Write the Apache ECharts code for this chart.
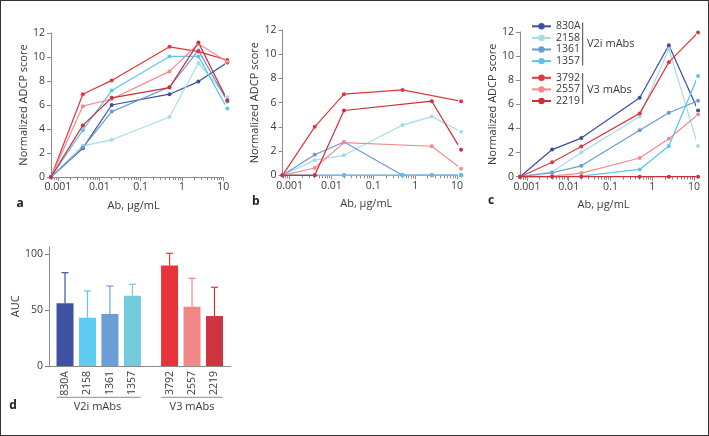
<!DOCTYPE html>
<html><head><meta charset="utf-8">
<script src="https://cdn.jsdelivr.net/npm/echarts@6/dist/echarts.min.js"></script>
<style>
html,body{margin:0;padding:0;background:#fff}
#wrap{position:relative;width:709px;height:436px}
#c{width:709px;height:436px}
#frame{position:absolute;left:0;top:0;width:709px;height:436px;box-sizing:border-box;border:1px solid #333;pointer-events:none}
</style>
</head><body><div id="wrap"><div id="c"></div><div id="frame"></div></div>
<script>
// ---------- data ----------
const antibodies = ['830A', '2158', '1361', '1357', '3792', '2557', '2219'];
const v2iNames = ['830A', '2158', '1361', '1357'];
const v3Names = ['3792', '2557', '2219'];
const groupLabels = ['V2i mAbs', 'V3 mAbs'];
const concentrations = [0.00068, 0.004, 0.02, 0.5, 2.5, 12.5]; // µg/mL
const xTickValues = [0.001, 0.01, 0.1, 1, 10];
const xTickLabels = ['0.001', '0.01', '0.1', '1', '10'];

// panel a
const a830A = [0, 2.4, 6.0, 6.9, 7.95, 9.55];
const a2158 = [0, 2.6, 3.1, 5.0, 9.5, 6.65];
const a1361 = [0, 2.45, 5.45, 7.5, 10.55, 6.3];
const a1357 = [0, 3.9, 7.2, 10.05, 10.05, 5.7];
const a3792 = [0, 6.9, 8.05, 10.85, 10.45, 9.75];
const a2557 = [0, 5.9, 6.5, 8.8, 11.1, 9.6];
const a2219 = [0, 4.3, 6.6, 7.45, 11.2, 6.4];
// panel b
const b830A = [0, 0, 0, 0, 0, 0];
const b2158 = [0, 1.25, 1.65, 4.15, 4.85, 3.6];
const b1361 = [0, 1.7, 2.75, 0, 0, 0];
const b1357 = [0, 0, 0, 0, 0, 0];
const b3792 = [0, 4.0, 6.7, 7.05, null, 6.12];
const b2557 = [0, 0.6, 2.7, null, 2.4, 0.55];
const b2219 = [0, 0, 5.35, null, 6.12, 2.1];
// panel c
const c830A = [0, 2.25, 3.2, 6.55, 10.9, 5.5];
const c2158 = [0, 0.4, 2.0, 5.0, 10.6, 2.55];
const c1361 = [0, 0.33, 0.9, 3.85, 5.3, 6.3];
const c1357 = [0, 0, 0.05, 0.6, 2.55, 8.35];
const c3792 = [0, 1.2, 2.5, 5.25, 9.5, 11.95];
const c2557 = [0, 0.05, 0.3, 1.55, 3.15, 5.15];
const c2219 = [0, 0, 0, 0, 0, 0];
// panel d
const aucMean = [56, 43.1, 46.4, 62.8, 89.8, 53, 44.6];
const aucSD = [27.3, 23.9, 25, 10.2, 10.8, 25.3, 25.7];
const aucTicks = [0, 50, 100];

// ---------- styling ----------
const lineColors = ['#3d4f9f', '#a5dbe9', '#6a99d1', '#5cc4ee', '#e2353d', '#f28b8b', '#cc2f3a'];
const barColors = ['#3f52a1', '#5dcbf2', '#6b9dd6', '#72ccdc', '#e8333b', '#f38686', '#cf3540'];
const FONT = 'Open Sans';
const AX = '#8c8c8c', TXT = '#3a3a3a';

const panels = [
  [a830A, a2158, a1361, a1357, a3792, a2557, a2219],
  [b830A, b2158, b1361, b1357, b3792, b2557, b2219],
  [c830A, c2158, c1361, c1357, c3792, c2557, c2219]
];
const xMin = Math.log10(concentrations[0]);
const xMax = Math.log10(10);
const majorTicks = xTickValues.map(v => Math.log10(v));
const minorTicks = [];
for (let d = -4; d <= 0; d++) for (let k = 2; k <= 9; k++) {
  const v = Math.log10(k * Math.pow(10, d));
  if (v >= xMin - 1e-9 && v <= xMax + 1e-9) minorTicks.push(v);
}

const grids = [
  {left: 51, top: 33, width: 172.3, height: 144},
  {left: 282.5, top: 30, width: 174.5, height: 145.3},
  {left: 520, top: 32, width: 174, height: 144.7},
  {left: 49, top: 246.7, width: 182, height: 119.3}
];

const xAxes = [], yAxes = [], series = [];
for (let p = 0; p < 3; p++) {
  xAxes.push({
    type: 'value', gridIndex: p, position: 'bottom', min: xMin, max: xMax,
    axisLine: {show: true, onZero: false, lineStyle: {color: AX, width: 1}},
    axisTick: {show: true, length: 4, customValues: majorTicks, lineStyle: {color: AX}},
    axisLabel: {customValues: majorTicks, margin: 5, fontSize: 10.5, color: TXT, fontFamily: FONT,
      formatter: v => xTickLabels[majorTicks.findIndex(t => Math.abs(t - v) < 1e-6)]},
    splitLine: {show: false},
    name: 'Ab, µg/mL', nameLocation: 'middle', nameGap: 23,
    nameTextStyle: {fontSize: 11, color: TXT, fontFamily: FONT, padding: [0, 7, 0, 0]}
  });
  xAxes.push({
    type: 'value', gridIndex: p, position: 'bottom', min: xMin, max: xMax,
    axisLine: {show: false, onZero: false},
    axisTick: {show: true, length: 3, customValues: minorTicks, lineStyle: {color: AX}},
    axisLabel: {show: false}, splitLine: {show: false}
  });
  yAxes.push({
    type: 'value', gridIndex: p, min: 0, max: 12, interval: 2,
    axisLine: {show: true, onZero: false, lineStyle: {color: AX, width: 1}},
    axisTick: {show: true, length: 4, lineStyle: {color: AX}},
    axisLabel: {margin: 6, fontSize: 10.5, color: TXT, fontFamily: FONT},
    splitLine: {show: false},
    name: 'Normalized ADCP score', nameLocation: 'middle', nameGap: 15,
    nameTextStyle: {fontSize: 11, color: TXT, fontFamily: FONT}
  });
  panels[p].forEach((vals, i) => {
    series.push({
      type: 'line', name: antibodies[i], xAxisIndex: p * 2, yAxisIndex: p,
      data: concentrations.map((c, k) => [Math.log10(c), vals[k] === null ? '-' : vals[k]]),
      connectNulls: true, clip: false, symbol: 'circle', symbolSize: 4, showSymbol: true,
      color: lineColors[i], lineStyle: {width: 1.2, color: lineColors[i]},
      itemStyle: {color: lineColors[i]}, emphasis: {disabled: true}, animation: false, z: 3
    });
  });
}

// bar panel (d): positions from index, with a gap between the two antibody groups
const groupGap = 0.655;
const barPos = antibodies.map((n, i) => i + (v3Names.includes(n) ? groupGap : 0));
xAxes.push({
  type: 'value', gridIndex: 3, min: -0.713, max: 7.39,
  axisLine: {show: true, onZero: false, lineStyle: {color: AX, width: 1}},
  axisTick: {show: false},
  axisLabel: {customValues: barPos, rotate: 90, margin: 5, fontSize: 10.5, color: TXT, fontFamily: FONT,
    formatter: v => antibodies[barPos.findIndex(t => Math.abs(t - v) < 1e-6)]},
  splitLine: {show: false}
});
yAxes.push({
  type: 'value', gridIndex: 3, min: 0, max: 106.5,
  axisLine: {show: true, onZero: false, lineStyle: {color: AX, width: 1}},
  axisTick: {show: true, length: 4, customValues: aucTicks, lineStyle: {color: AX}},
  axisLabel: {customValues: aucTicks, margin: 6, fontSize: 10.5, color: TXT, fontFamily: FONT},
  splitLine: {show: false},
  name: 'AUC', nameLocation: 'middle', nameGap: 28,
  nameTextStyle: {fontSize: 11, color: TXT, fontFamily: FONT}
});
series.push({
  type: 'custom', xAxisIndex: 6, yAxisIndex: 3, z: 1, animation: false, clip: false,
  data: antibodies.map((n, i) => [barPos[i], aucMean[i], aucMean[i] + aucSD[i], i]),
  renderItem: (params, api) => {
    const x = api.value(0), lo = api.value(1), hi = api.value(2), ci = api.value(3);
    const p0 = api.coord([x, lo]), p1 = api.coord([x, hi]);
    const st = {stroke: barColors[ci], lineWidth: 1.2};
    return {type: 'group', children: [
      {type: 'line', shape: {x1: p0[0], y1: p0[1], x2: p1[0], y2: p1[1]}, style: st},
      {type: 'line', shape: {x1: p1[0] - 3.5, y1: p1[1], x2: p1[0] + 3.5, y2: p1[1]}, style: st}
    ]};
  }
});
series.push({
  type: 'bar', xAxisIndex: 6, yAxisIndex: 3, barWidth: 17, z: 2, animation: false,
  data: antibodies.map((n, i) => ({value: [barPos[i], aucMean[i]], itemStyle: {color: barColors[i]}}))
});

const legendBase = {
  orient: 'vertical', left: 531, itemWidth: 19, itemHeight: 8, itemGap: 0,
  selectedMode: false, lineStyle: {width: 2},
  textStyle: {fontSize: 10.5, color: TXT, fontFamily: FONT, lineHeight: 11.6},
  padding: 0
};

const lbl = (t, x, y) => ({
  type: 'text', x: x, y: y,
  style: {text: t, fill: TXT, font: '11px "' + FONT + '"', textAlign: 'center', textVerticalAlign: 'middle'}
});
const letter = (t, x, y) => ({type: 'text', x: x, y: y,
  style: {text: t, fill: '#222', font: 'bold 12px "' + FONT + '"', textAlign: 'center', textVerticalAlign: 'middle'}});
const seg = (x1, y1, x2, y2, c) => ({type: 'line', shape: {x1, y1, x2, y2}, style: {stroke: c, lineWidth: 1}});

const graphics = [
  letter('a', 20, 204), letter('b', 255.7, 202), letter('c', 491, 201), letter('d', 13, 406),
  // legend brackets (panel c)
  seg(582.7, 22.5, 582.7, 65.5, '#444'), seg(582.7, 73, 582.7, 104, '#444'),
  {type: 'text', x: 587, y: 44.3, style: {text: groupLabels[0], fill: TXT, font: '11px "' + FONT + '"', textAlign: 'left', textVerticalAlign: 'middle'}},
  {type: 'text', x: 587, y: 89.5, style: {text: groupLabels[1], fill: TXT, font: '11px "' + FONT + '"', textAlign: 'left', textVerticalAlign: 'middle'}},
  // group brackets (panel d)
  seg(56.7, 397.3, 140.7, 397.3, AX), seg(161.3, 397.3, 222.7, 397.3, AX),
  lbl(groupLabels[0], 97.5, 407), lbl(groupLabels[1], 192, 407)
];

const chart = echarts.init(document.getElementById('c'));
chart.setOption({
  animation: false,
  textStyle: {fontFamily: FONT},
  grid: grids,
  xAxis: xAxes,
  yAxis: yAxes,
  legend: [
    Object.assign({}, legendBase, {top: 20.5, data: v2iNames}),
    Object.assign({}, legendBase, {top: 72, data: v3Names})
  ],
  series: series,
  graphic: graphics
});
</script>
</body></html>
